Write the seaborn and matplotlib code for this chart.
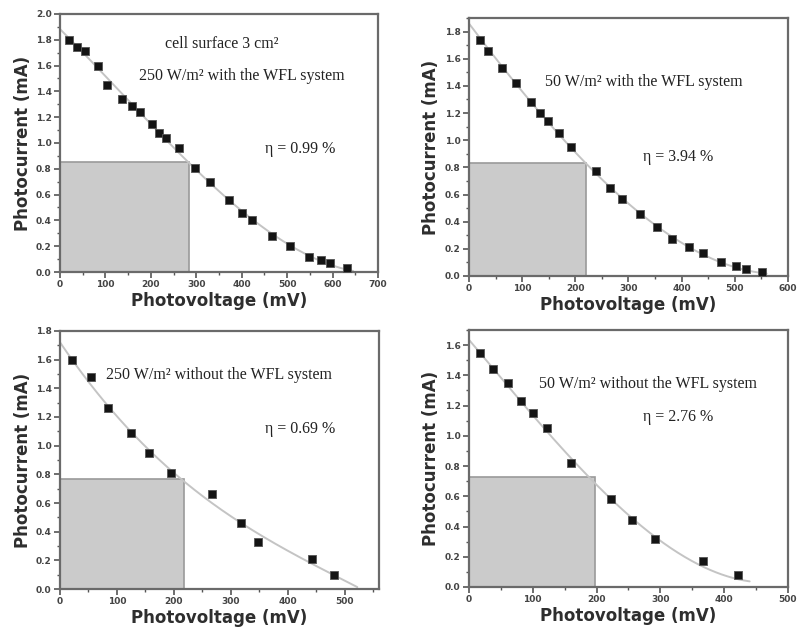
import numpy as np
import pandas as pd
import matplotlib
matplotlib.use("Agg")
import matplotlib.pyplot as plt
from matplotlib.patches import Rectangle
from matplotlib.ticker import MultipleLocator, FormatStrFormatter
import seaborn as sns

sns.set_theme(style="white")
plt.rcParams["font.family"] = ["DejaVu Sans"]

# ---- I-V data for the four measurement conditions ----
v_250_wfl = [20, 38, 55, 84, 104, 136, 158, 175, 202, 219, 233, 262, 298, 331,
             371, 401, 423, 466, 506, 547, 574, 595, 631]
i_250_wfl = [1.80, 1.745, 1.71, 1.60, 1.45, 1.34, 1.29, 1.24, 1.15, 1.08, 1.04,
             0.96, 0.81, 0.70, 0.56, 0.46, 0.40, 0.28, 0.20, 0.117, 0.09, 0.07, 0.03]

v_50_wfl = [21, 36, 63, 88, 116, 134, 149, 169, 192, 238, 266, 288, 322, 354,
            381, 413, 441, 475, 503, 522, 551]
i_50_wfl = [1.74, 1.66, 1.53, 1.42, 1.28, 1.20, 1.14, 1.05, 0.95, 0.77, 0.65,
            0.57, 0.46, 0.36, 0.27, 0.21, 0.17, 0.10, 0.07, 0.05, 0.03]

v_250_no = [21, 54, 85, 124, 157, 195, 266, 318, 347, 443, 481]
i_250_no = [1.60, 1.48, 1.26, 1.09, 0.95, 0.81, 0.66, 0.46, 0.33, 0.21, 0.10]

v_50_no = [17, 38, 61, 81, 100, 122, 160, 222, 256, 291, 367, 421]
i_50_no = [1.55, 1.44, 1.35, 1.23, 1.15, 1.05, 0.82, 0.58, 0.44, 0.32, 0.17, 0.08]

# maximum power point (V, I) of each curve -> shaded rectangle
mpp_v = [285, 220, 218, 197]
mpp_i = [0.855, 0.835, 0.765, 0.725]

# open-circuit voltage / short-circuit current where the fitted curve meets the axes
v_oc = [645, 560, 522, 440]
i_sc = [1.90, 1.88, 1.70, 1.62]

titles = ["250 W/m\u00b2 with the WFL system", "50 W/m\u00b2 with the WFL system",
          "250 W/m\u00b2 without the WFL system", "50 W/m\u00b2 without the WFL system"]
efficiencies = ["\u03b7 = 0.99 %", "\u03b7 = 3.94 %", "\u03b7 = 0.69 %", "\u03b7 = 2.76 %"]

x_limits = [700, 600, 560, 500]
y_limits = [2.0, 1.9, 1.8, 1.7]
y_top_tick = [2.0, 1.8, 1.8, 1.6]

volts = [v_250_wfl, v_50_wfl, v_250_no, v_50_no]
amps = [i_250_wfl, i_50_wfl, i_250_no, i_50_no]

# axes rectangles in figure fractions
positions = [
    [0.0752, 0.5703, 0.3985, 0.4076],
    [0.5877, 0.5640, 0.3997, 0.4076],
    [0.0752, 0.0695, 0.3997, 0.4076],
    [0.5877, 0.0727, 0.3997, 0.4060],
]
# text anchors (axes fraction) for the condition label and efficiency
title_xy = [(0.573, 0.76), (0.547, 0.75), (0.50, 0.83), (0.56, 0.79)]
eta_xy = [(0.755, 0.475), (0.657, 0.46), (0.752, 0.62), (0.657, 0.66)]

serif = ["Liberation Serif", "DejaVu Serif"]

fig = plt.figure(figsize=(7.98, 6.33), dpi=100)

for k in range(4):
    ax = fig.add_axes(positions[k])
    df = pd.DataFrame({"V": volts[k], "I": amps[k]})

    # smooth fitted curve through the short-circuit and open-circuit points
    fit_v = np.concatenate([[0.0], df["V"].to_numpy(), [v_oc[k]]])
    fit_i = np.concatenate([[i_sc[k]], df["I"].to_numpy(), [0.0]])
    coef = np.polyfit(fit_v, fit_i, 3)
    xs = np.linspace(0, v_oc[k], 200)
    fit_df = pd.DataFrame({"V": xs, "I": np.clip(np.polyval(coef, xs), 0, None)})

    ax.add_patch(Rectangle((0, 0), mpp_v[k], mpp_i[k], facecolor="#cbcbcb",
                           edgecolor="#9a9a9a", linewidth=1.2, zorder=1))
    sns.lineplot(data=fit_df, x="V", y="I", ax=ax, color="#c4c4c4",
                 linewidth=1.4, zorder=2)
    sns.scatterplot(data=df, x="V", y="I", ax=ax, marker="s", s=26,
                    color="#141414", edgecolor="#555555", linewidth=0.6, zorder=3)

    ax.set_xlim(0, x_limits[k])
    ax.set_ylim(0, y_limits[k])
    ax.set_xticks(np.arange(0, x_limits[k] + 1, 100))
    ax.set_yticks(np.arange(0, y_top_tick[k] + 0.01, 0.2))
    ax.xaxis.set_minor_locator(MultipleLocator(50))
    ax.yaxis.set_minor_locator(MultipleLocator(0.1))
    ax.yaxis.set_major_formatter(FormatStrFormatter("%.1f"))
    ax.tick_params(axis="both", which="major", direction="out", length=4,
                   width=1.2, color="#555555", labelsize=6.5, labelcolor="#444444",
                   bottom=True, left=True, pad=2)
    ax.tick_params(axis="both", which="minor", direction="out", length=2.5,
                   width=1.0, color="#555555", bottom=True, left=True)
    for lab in ax.get_xticklabels() + ax.get_yticklabels():
        lab.set_fontweight("bold")
    for sp in ax.spines.values():
        sp.set_color("#6a6a6a")
        sp.set_linewidth(1.6)

    ax.set_xlabel("Photovoltage (mV)", fontsize=12, fontweight="bold",
                  color="#2e2e2e", labelpad=2)
    ax.set_ylabel("Photocurrent (mA)", fontsize=12, fontweight="bold",
                  color="#2e2e2e", labelpad=3)

    ax.text(title_xy[k][0], title_xy[k][1], titles[k], transform=ax.transAxes,
            ha="center", va="center", fontsize=11.5, family=serif, color="#222222")
    ax.text(eta_xy[k][0], eta_xy[k][1], efficiencies[k], transform=ax.transAxes,
            ha="center", va="center", fontsize=11.5, family=serif, color="#222222")
    if k == 0:
        ax.text(0.51, 0.885, "cell surface 3 cm\u00b2", transform=ax.transAxes,
                ha="center", va="center", fontsize=11.5, family=serif,
                color="#222222")

fig.savefig("out.png", dpi=100)
